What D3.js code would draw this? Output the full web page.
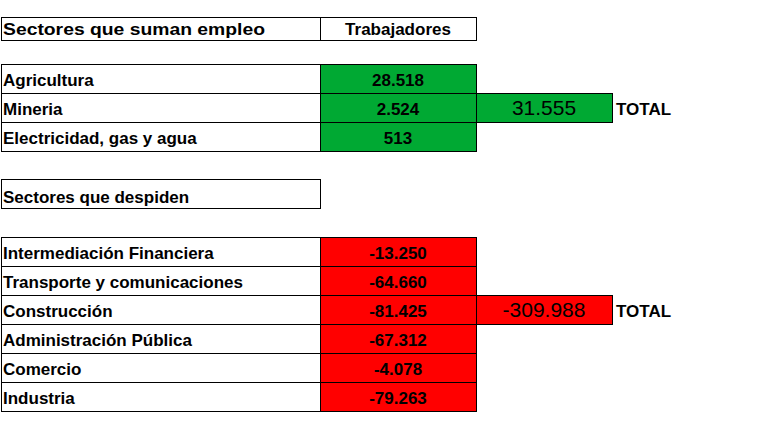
<!DOCTYPE html><html><head><meta charset="utf-8"><script src="https://cdn.jsdelivr.net/npm/d3@7"></script>
<style>body{margin:0;background:#fff}</style></head><body><svg id="c" width="765" height="433"></svg>
<script>
const headers=["Sectores que suman empleo","Trabajadores"];
const gainCats=["Agricultura","Mineria","Electricidad, gas y agua"];
const gainVals=[28518,2524,513];
const lossTitle="Sectores que despiden";
const lossCats=["Intermediación Financiera","Transporte y comunicaciones","Construcción","Administración Pública","Comercio","Industria"];
const lossVals=[-13250,-64660,-81425,-67312,-4078,-79263];
const totalLabel="TOTAL";
const fmt=v=>(v<0?"-":"")+d3.format(",")(Math.abs(v)).replace(/,/g,".");
const svg=d3.select("#c");
const F="'Liberation Sans Narrow','Liberation Sans',Arial,sans-serif";
const x0=1,x1=320,x2=476,x3=612,rh=29;
function txt(s,x,y,anchor,size,bold,w){const t=svg.append("text").attr("x",x).attr("y",y).attr("text-anchor",anchor).attr("font-family",F).attr("font-size",size).attr("font-weight",bold?"bold":"normal").attr("dominant-baseline","central").text(s);
 if(w){t.attr("textLength",w).attr("lengthAdjust","spacingAndGlyphs");}return t;}
function cell(x,y,w,h,fill){svg.append("rect").attr("x",x+.5).attr("y",y+.5).attr("width",w).attr("height",h).attr("fill",fill).attr("stroke","#000").attr("stroke-width",1);}
// header
cell(x0,17,x1-x0,23,"#fff");cell(x1,17,x2-x1,23,"#fff");
txt(headers[0],3,29,"start",17,true,262);txt(headers[1],(x1+x2)/2,29,"middle",17,true);
function block(cats,vals,top,color){
 const y=d3.scaleBand().domain(cats).range([top,top+rh*cats.length]);
 cats.forEach((c,i)=>{cell(x0,y(c),x1-x0,rh,"#fff");cell(x1,y(c),x2-x1,rh,color);
  txt(c,3,y(c)+rh/2+2,"start",17,true);txt(fmt(vals[i]),(x1+x2)/2,y(c)+rh/2+2,"middle",17,true);});
 return y;}
const yg=block(gainCats,gainVals,64,"#00a933");
// blank row above gains
const yl=block(lossCats,lossVals,237,"#ff0000");
cell(x0,179,x1-x0,29,"#fff");txt(lossTitle,3,197,"start",17,true);
function total(v,y,color){cell(x2,y,x3-x2,rh,color);txt(fmt(v),(x2+x3)/2,y+rh/2,"middle",21,false);txt(totalLabel,616,y+rh/2+2,"start",17,true);}
total(d3.sum(gainVals),yg("Mineria"),"#00a933");
total(d3.sum(lossVals),yl("Construcción"),"#ff0000");
</script></body></html>
